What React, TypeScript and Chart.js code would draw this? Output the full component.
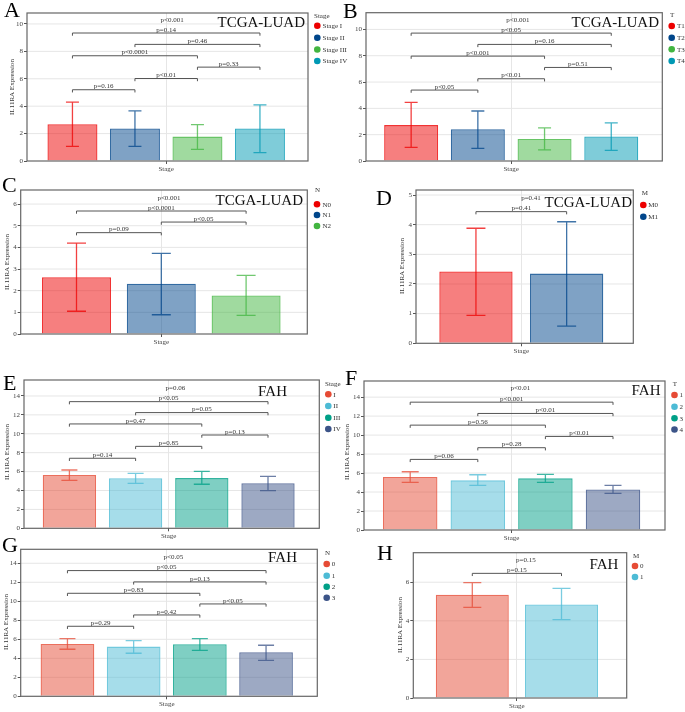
import React, { useEffect, useRef } from "react";
import { Chart, registerables } from "chart.js";

Chart.register(...registerables);

const SERIF = '"Liberation Serif", "Times New Roman", "DejaVu Serif", serif';
const GRID = "#e6e6e6";
const AXIS = "#555555";
const FRAME = "#666666";
const BRACKET = "#555555";
const TXT = "#444444";

const LANCET = ["#ED0000", "#00468B", "#42B540", "#0099B4"];
const NPG = ["#E64B35", "#4DBBD5", "#00A087", "#3C5488"];

const PAIRS4 = [[0, 1], [1, 2], [2, 3], [0, 2], [1, 3], [0, 3]];
const PAIRS3 = [[0, 1], [1, 2], [0, 2]];
const PAIRS2 = [[0, 1]];

// ---- Panel A : TCGA-LUAD, Stage ----
const A_GROUPS = ["Stage I", "Stage II", "Stage III", "Stage IV"];
const A_MEAN = [2.68, 2.37, 1.78, 2.37];
const A_UPPER = [4.29, 3.66, 2.66, 4.1];
const A_LOWER = [1.07, 1.07, 0.85, 0.61];
const A_P_Y = [5.2, 6.02, 6.85, 7.68, 8.51, 9.34];
const A_P_TEXT = ["p=0.16", "p<0.01", "p=0.33", "p<0.0001", "p=0.46", "p=0.14"];
const A_OVERALL = "p<0.001";
const A_OVERALL_Y = 10.27;

// ---- Panel B : TCGA-LUAD, T ----
const B_GROUPS = ["T1", "T2", "T3", "T4"];
const B_MEAN = [2.73, 2.41, 1.67, 1.87];
const B_UPPER = [4.46, 3.8, 2.51, 2.89];
const B_LOWER = [1.04, 0.96, 0.84, 0.81];
const B_P_Y = [5.39, 6.25, 7.11, 7.97, 8.86, 9.72];
const B_P_TEXT = ["p<0.05", "p<0.01", "p=0.51", "p<0.001", "p=0.16", "p<0.05"];
const B_OVERALL = "p<0.001";
const B_OVERALL_Y = 10.7;

// ---- Panel C : TCGA-LUAD, N ----
const C_GROUPS = ["N0", "N1", "N2"];
const C_MEAN = [2.62, 2.32, 1.78];
const C_UPPER = [4.2, 3.72, 2.71];
const C_LOWER = [1.05, 0.89, 0.86];
const C_P_Y = [4.68, 5.17, 5.68];
const C_P_TEXT = ["p=0.09", "p<0.05", "p<0.0001"];
const C_OVERALL = "p<0.001";
const C_OVERALL_Y = 6.26;

// ---- Panel D : TCGA-LUAD, M ----
const D_GROUPS = ["M0", "M1"];
const D_MEAN = [2.42, 2.35];
const D_UPPER = [3.88, 4.1];
const D_LOWER = [0.94, 0.58];
const D_P_Y = [4.44];
const D_P_TEXT = ["p=0.41"];
const D_OVERALL = "p=0.41";
const D_OVERALL_Y = 4.89;

// ---- Panel E : FAH, Stage ----
const E_GROUPS = ["I", "II", "III", "IV"];
const E_MEAN = [5.64, 5.29, 5.31, 4.76];
const E_UPPER = [6.17, 5.82, 6.03, 5.5];
const E_LOWER = [5.08, 4.76, 4.66, 3.99];
const E_P_Y = [7.41, 8.67, 9.87, 11.04, 12.24, 13.4];
const E_P_TEXT = ["p=0.14", "p=0.85", "p=0.13", "p=0.47", "p=0.05", "p<0.05"];
const E_OVERALL = "p=0.06";
const E_OVERALL_Y = 14.8;

// ---- Panel F : FAH, T ----
const F_GROUPS = ["1", "2", "3", "4"];
const F_MEAN = [5.58, 5.23, 5.44, 4.28];
const F_UPPER = [6.14, 5.82, 5.86, 4.7];
const F_LOWER = [5.02, 4.7, 5.02, 3.86];
const F_P_Y = [7.44, 8.67, 9.86, 11.05, 12.28, 13.47];
const F_P_TEXT = ["p=0.06", "p=0.28", "p<0.01", "p=0.56", "p<0.01", "p<0.001"];
const F_OVERALL = "p<0.01";
const F_OVERALL_Y = 14.9;

// ---- Panel G : FAH, N ----
const G_GROUPS = ["0", "1", "2", "3"];
const G_MEAN = [5.51, 5.23, 5.47, 4.63];
const G_UPPER = [6.07, 5.86, 6.07, 5.37];
const G_LOWER = [4.95, 4.53, 4.84, 3.79];
const G_P_Y = [7.37, 8.56, 9.72, 10.84, 12.04, 13.23];
const G_P_TEXT = ["p=0.29", "p=0.42", "p<0.05", "p=0.83", "p=0.13", "p<0.05"];
const G_OVERALL = "p<0.05";
const G_OVERALL_Y = 14.6;

// ---- Panel H : FAH, M ----
const H_GROUPS = ["0", "1"];
const H_MEAN = [5.35, 4.85];
const H_UPPER = [5.98, 5.68];
const H_LOWER = [4.7, 4.06];
const H_P_Y = [6.46];
const H_P_TEXT = ["p=0.15"];
const H_OVERALL = "p=0.15";
const H_OVERALL_Y = 7.15;

const X_LABEL = "Stage";
const Y_TITLE = "IL11RA Expression";

function rgba(hex: string, a: number) {
  const h = hex.replace("#", "");
  const r = parseInt(h.slice(0, 2), 16);
  const g = parseInt(h.slice(2, 4), 16);
  const b = parseInt(h.slice(4, 6), 16);
  return `rgba(${r},${g},${b},${a})`;
}

const PANELS: any[] = [
  {
    letter: "A", title: "TCGA-LUAD", legendTitle: "Stage", colors: LANCET,
    groups: A_GROUPS, mean: A_MEAN, upper: A_UPPER, lower: A_LOWER,
    pairs: PAIRS4, pY: A_P_Y, pText: A_P_TEXT, overall: A_OVERALL, overallY: A_OVERALL_Y,
    yMax: 10.8, yStep: 2,
    canvas: [0, 0, 352, 178], frame: [27, 13, 308, 161], shift: 2.6, spacing: 62.5, barW: 50, cap: 6.5,
    letterPos: [4, 17], titlePos: [305, 27],
    legend: { tx: 314, ty: 15.7, dx: 317.3, dy: [25.7, 37.7, 49.5, 61], lx: 322.5 },
    yTitlePos: [12, 87], overallDx: 6,
  },
  {
    letter: "B", title: "TCGA-LUAD", legendTitle: "T", colors: LANCET,
    groups: B_GROUPS, mean: B_MEAN, upper: B_UPPER, lower: B_LOWER,
    pairs: PAIRS4, pY: B_P_Y, pText: B_P_TEXT, overall: B_OVERALL, overallY: B_OVERALL_Y,
    yMax: 11.27, yStep: 2,
    canvas: [340, 0, 345, 178], frame: [366, 12.7, 662.3, 161], shift: 5.9, spacing: 66.7, barW: 54, cap: 6.5,
    letterPos: [343, 18], titlePos: [659, 27],
    legend: { tx: 670, ty: 15, dx: 671.7, dy: [26, 37.7, 49.3, 61], lx: 677 },
    yTitlePos: null, overallDx: 6.7,
  },
  {
    letter: "C", title: "TCGA-LUAD", legendTitle: "N", colors: LANCET,
    groups: C_GROUPS, mean: C_MEAN, upper: C_UPPER, lower: C_LOWER,
    pairs: PAIRS3, pY: C_P_Y, pText: C_P_TEXT, overall: C_OVERALL, overallY: C_OVERALL_Y,
    yMax: 6.65, yStep: 1,
    canvas: [0, 176, 340, 172], frame: [20.7, 190, 307.3, 334], shift: 5.4, spacing: 84.8, barW: 69, cap: 9.5,
    letterPos: [2, 191.5], titlePos: [303, 205],
    legend: { tx: 315, ty: 190, dx: 317, dy: [204.3, 215, 226], lx: 322.5 },
    yTitlePos: [7, 262], overallDx: 7.7,
  },
  {
    letter: "D", title: "TCGA-LUAD", legendTitle: "M", colors: LANCET,
    groups: D_GROUPS, mean: D_MEAN, upper: D_UPPER, lower: D_LOWER,
    pairs: PAIRS2, pY: D_P_Y, pText: D_P_TEXT, overall: D_OVERALL, overallY: D_OVERALL_Y,
    yMax: 5.17, yStep: 1,
    canvas: [340, 176, 345, 182], frame: [416, 190, 633.3, 343.3], shift: 6.7, spacing: 90.7, barW: 73.3, cap: 9.5,
    letterPos: [376, 205], titlePos: [632, 207],
    legend: { tx: 641.7, ty: 193, dx: 643.3, dy: [205, 216.7], lx: 648.3 },
    yTitlePos: [401.7, 266], overallDx: 9.7,
  },
  {
    letter: "E", title: "FAH", legendTitle: "Stage", colors: NPG,
    groups: E_GROUPS, mean: E_MEAN, upper: E_UPPER, lower: E_LOWER,
    pairs: PAIRS4, pY: E_P_Y, pText: E_P_TEXT, overall: E_OVERALL, overallY: E_OVERALL_Y,
    yMax: 15.69, yStep: 2,
    canvas: [0, 360, 345, 184], frame: [24, 380, 319.3, 528.3], shift: 5.9, spacing: 66.2, barW: 53.3, cap: 8,
    letterPos: [3, 390], titlePos: [287, 396],
    legend: { tx: 325, ty: 384.3, dx: 328.3, dy: [394.3, 406, 417.7, 429], lx: 333.3 },
    yTitlePos: [7, 452], overallDx: 6.7,
  },
  {
    letter: "F", title: "FAH", legendTitle: "T", colors: NPG,
    groups: F_GROUPS, mean: F_MEAN, upper: F_UPPER, lower: F_LOWER,
    pairs: PAIRS4, pY: F_P_Y, pText: F_P_TEXT, overall: F_OVERALL, overallY: F_OVERALL_Y,
    yMax: 15.7, yStep: 2,
    canvas: [340, 360, 345, 186], frame: [364, 381, 665, 530], shift: 5.8, spacing: 67.6, barW: 54.5, cap: 8.5,
    letterPos: [345, 385], titlePos: [660.5, 395],
    legend: { tx: 672.7, ty: 384, dx: 674.5, dy: [395, 406.7, 418.3, 429.5], lx: 679.5 },
    yTitlePos: [347, 452], overallDx: 8.7,
  },
  {
    letter: "G", title: "FAH", legendTitle: "N", colors: NPG,
    groups: G_GROUPS, mean: G_MEAN, upper: G_UPPER, lower: G_LOWER,
    pairs: PAIRS4, pY: G_P_Y, pText: G_P_TEXT, overall: G_OVERALL, overallY: G_OVERALL_Y,
    yMax: 15.47, yStep: 2,
    canvas: [0, 530, 345, 182], frame: [20.7, 549.3, 317.3, 696.3], shift: 4.5, spacing: 66.2, barW: 53.7, cap: 8,
    letterPos: [2, 552], titlePos: [297, 562],
    legend: { tx: 325, ty: 553.3, dx: 326.7, dy: [564, 575.7, 586.7, 597.7], lx: 331.7 },
    yTitlePos: [6, 622], overallDx: 6.6,
  },
  {
    letter: "H", title: "FAH", legendTitle: "M", colors: NPG,
    groups: H_GROUPS, mean: H_MEAN, upper: H_UPPER, lower: H_LOWER,
    pairs: PAIRS2, pY: H_P_Y, pText: H_P_TEXT, overall: H_OVERALL, overallY: H_OVERALL_Y,
    yMax: 7.53, yStep: 2,
    canvas: [340, 530, 345, 182], frame: [413.3, 552.7, 626.7, 698], shift: 6.2, spacing: 89.2, barW: 73, cap: 9,
    letterPos: [377, 560], titlePos: [618.3, 569],
    legend: { tx: 633, ty: 555.7, dx: 635, dy: [566, 577], lx: 640 },
    yTitlePos: [400, 625], overallDx: 9,
  },
];

function PanelChart({ s }: { s: any }) {
  const ref = useRef<HTMLCanvasElement | null>(null);
  const [cx, cy, cw, ch] = s.canvas;

  useEffect(() => {
    if (!ref.current) return;
    const [fl, ft, fr, fb] = s.frame;
    const YW = 14;
    const XH = 14;
    const plotW = fr - s.shift - fl;
    const n = s.groups.length;
    const L = (x: number) => x - cx;
    const T = (y: number) => y - cy;

    const deco = {
      id: "deco" + s.letter,
      beforeDatasetsDraw(chart: any) {
        const ctx = chart.ctx;
        const ys = chart.scales.y;
        const a = chart.chartArea;
        ctx.save();
        ctx.strokeStyle = GRID;
        ctx.lineWidth = 1;
        ys.ticks.forEach((t: any) => {
          if (t.value === 0) return;
          const yy = ys.getPixelForValue(t.value);
          ctx.beginPath();
          ctx.moveTo(a.left, yy);
          ctx.lineTo(a.right + s.shift, yy);
          ctx.stroke();
        });
        ctx.restore();
      },
      afterDatasetsDraw(chart: any) {
        const ctx = chart.ctx;
        const ys = chart.scales.y;
        const xs = chart.scales.x;
        const a = chart.chartArea;
        const barX = (i: number) => chart.getDatasetMeta(i).data[0].x;
        ctx.save();

        // error bars
        s.groups.forEach((_g: string, i: number) => {
          const x = barX(i);
          const yh = ys.getPixelForValue(s.upper[i]);
          const yl = ys.getPixelForValue(s.lower[i]);
          ctx.strokeStyle = rgba(s.colors[i], 0.75);
          ctx.lineWidth = 1.3;
          ctx.beginPath();
          ctx.moveTo(x, yh);
          ctx.lineTo(x, yl);
          ctx.moveTo(x - s.cap, yh);
          ctx.lineTo(x + s.cap, yh);
          ctx.moveTo(x - s.cap, yl);
          ctx.lineTo(x + s.cap, yl);
          ctx.stroke();
        });

        // frame
        ctx.strokeStyle = FRAME;
        ctx.lineWidth = 1.2;
        ctx.strokeRect(a.left, a.top, a.right + s.shift - a.left, a.bottom - a.top);

        // significance brackets
        ctx.strokeStyle = BRACKET;
        ctx.lineWidth = 1;
        ctx.fillStyle = "#333";
        ctx.font = `7px ${SERIF}`;
        ctx.textAlign = "center";
        ctx.textBaseline = "middle";
        s.pairs.forEach((pr: number[], k: number) => {
          const x1 = barX(pr[0]);
          const x2 = barX(pr[1]);
          const yb = ys.getPixelForValue(s.pY[k]);
          ctx.beginPath();
          ctx.moveTo(x1, yb + 2.7);
          ctx.lineTo(x1, yb);
          ctx.lineTo(x2, yb);
          ctx.lineTo(x2, yb + 2.7);
          ctx.stroke();
          ctx.fillText(s.pText[k], (x1 + x2) / 2, yb - 3.2);
        });
        ctx.fillText(s.overall, xs.getPixelForValue(0) + s.overallDx, ys.getPixelForValue(s.overallY));

        // dataset title
        ctx.fillStyle = "#111";
        ctx.font = `15px ${SERIF}`;
        ctx.textAlign = "right";
        ctx.textBaseline = "alphabetic";
        ctx.fillText(s.title, L(s.titlePos[0]), T(s.titlePos[1]));

        // panel letter
        ctx.fillStyle = "#000";
        ctx.font = `22px ${SERIF}`;
        ctx.textAlign = "left";
        ctx.fillText(s.letter, L(s.letterPos[0]), T(s.letterPos[1]));

        // legend
        const lg = s.legend;
        ctx.font = `7px ${SERIF}`;
        ctx.textBaseline = "middle";
        ctx.fillStyle = "#333";
        ctx.fillText(s.legendTitle, L(lg.tx), T(lg.ty));
        s.groups.forEach((g: string, i: number) => {
          ctx.fillStyle = s.colors[i];
          ctx.beginPath();
          ctx.arc(L(lg.dx), T(lg.dy[i]), 3.3, 0, Math.PI * 2);
          ctx.fill();
          ctx.fillStyle = "#333";
          ctx.fillText(g, L(lg.lx), T(lg.dy[i]) + 0.5);
        });

        // y-axis title
        if (s.yTitlePos) {
          ctx.save();
          ctx.translate(L(s.yTitlePos[0]), T(s.yTitlePos[1]));
          ctx.rotate(-Math.PI / 2);
          ctx.textAlign = "center";
          ctx.textBaseline = "middle";
          ctx.fillStyle = "#333";
          ctx.font = `7px ${SERIF}`;
          ctx.fillText(Y_TITLE, 0, 0);
          ctx.restore();
        }
        ctx.restore();
      },
    };

    const chart = new Chart(ref.current, {
      type: "bar",
      data: {
        labels: [X_LABEL],
        datasets: s.groups.map((g: string, i: number) => ({
          label: g,
          data: [s.mean[i]],
          backgroundColor: rgba(s.colors[i], 0.5),
          borderColor: rgba(s.colors[i], 0.8),
          borderWidth: 1.3,
          categoryPercentage: (n * s.spacing) / plotW,
          barPercentage: s.barW / s.spacing,
        })),
      },
      options: {
        animation: false,
        responsive: false,
        maintainAspectRatio: false,
        devicePixelRatio: 1,
        events: [],
        layout: {
          padding: {
            left: fl - cx - YW,
            top: ft - cy,
            right: cx + cw - (fr - s.shift),
            bottom: cy + ch - fb - XH,
          },
        },
        plugins: {
          legend: { display: false },
          title: { display: false },
          tooltip: { enabled: false },
        },
        scales: {
          x: {
            grid: { offset: false, color: GRID, tickLength: 3, tickColor: AXIS, drawTicks: true },
            border: { display: false },
            ticks: { font: { family: SERIF, size: 7 }, color: TXT, padding: 1, maxRotation: 0 },
            afterFit: (sc: any) => {
              sc.height = XH;
            },
          },
          y: {
            min: 0,
            max: s.yMax,
            grid: { drawOnChartArea: false, tickLength: 3, tickColor: AXIS },
            border: { display: false },
            ticks: {
              stepSize: s.yStep,
              includeBounds: false,
              font: { family: SERIF, size: 7 },
              color: TXT,
              padding: 1,
            },
            afterFit: (sc: any) => {
              sc.width = YW;
            },
          },
        },
      },
      plugins: [deco],
    } as any);
    return () => chart.destroy();
  }, []);

  return (
    <canvas
      ref={ref}
      width={cw}
      height={ch}
      style={{ position: "absolute", left: cx, top: cy, width: cw, height: ch }}
    />
  );
}

export default function App() {
  return (
    <div
      style={{
        position: "absolute",
        left: 0,
        top: 0,
        width: 685,
        height: 712,
        background: "#ffffff",
        overflow: "hidden",
      }}
    >
      {PANELS.map((p) => (
        <PanelChart key={p.letter} s={p} />
      ))}
    </div>
  );
}
